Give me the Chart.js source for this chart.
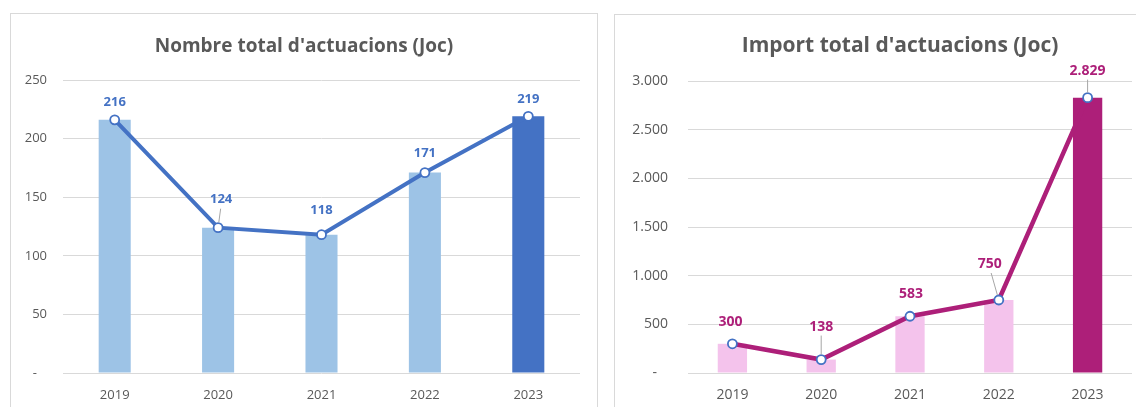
<!DOCTYPE html>
<html>
<head>
<meta charset="utf-8">
<script src="https://cdn.jsdelivr.net/npm/chart.js@4/dist/chart.umd.min.js"></script>
<style>
  html, body { margin: 0; padding: 0; background: #fff; overflow: hidden; }
  body { width: 1136px; height: 407px; position: relative; }
  .panel { position: absolute; border: 1px solid #D9D9D9; background: #fff; }
  #panelCount { left: 10px; top: 13px; width: 586px; height: 420px; }
  #panelImport { left: 614px; top: 14px; width: 570px; height: 420px; }
  canvas { display: block; }
</style>
</head>
<body>
<div class="panel" id="panelCount"><canvas id="countChart"></canvas></div>
<div class="panel" id="panelImport"><canvas id="importChart"></canvas></div>
<script>
// Dades
const years = ['2019', '2020', '2021', '2022', '2023'];
const actuacions = [216, 124, 118, 171, 219];
const imports = [300, 138, 583, 750, 2829];

const FONT = "'Open Sans', 'Noto Sans', sans-serif";

// 2.829 style thousands
function fmtThousands(n) {
  return String(n).replace(/\B(?=(\d{3})+(?!\d))/g, '.');
}

// Títol centrat a tot el llenç (no només a l'àrea del gràfic)
const centeredTitle = {
  id: 'centeredTitle',
  afterDraw(chart, args, opts) {
    if (!opts.text) return;
    const ctx = chart.ctx;
    ctx.save();
    ctx.font = 'bold ' + opts.size + 'px ' + FONT;
    ctx.fillStyle = '#595959';
    ctx.textAlign = 'center';
    ctx.textBaseline = 'middle';
    ctx.fillText(opts.text, chart.width / 2, opts.y);
    ctx.restore();
  }
};

// Etiquetes de valor sobre els punts de la línia, amb línia guia opcional
const valueLabels = {
  id: 'valueLabels',
  afterDatasetsDraw(chart, args, opts) {
    if (!opts.offsets) return;
    const meta = chart.getDatasetMeta(opts.dataset);
    const values = chart.data.datasets[opts.dataset].data;
    const ctx = chart.ctx;
    ctx.save();
    meta.data.forEach((pt, i) => {
      const [dx, dy, leader] = opts.offsets[i];
      const lx = pt.x + dx, ly = pt.y + dy;
      if (leader) {
        const sx = lx - dx * 0.15, sy = ly + 9;
        const ang = Math.atan2(sy - pt.y, sx - pt.x);
        ctx.strokeStyle = '#A6A6A6';
        ctx.lineWidth = 1;
        ctx.beginPath();
        ctx.moveTo(sx, sy);
        ctx.lineTo(pt.x + Math.cos(ang) * 5, pt.y + Math.sin(ang) * 5);
        ctx.stroke();
      }
      ctx.font = opts.font;
      ctx.fillStyle = opts.color;
      ctx.textAlign = 'center';
      ctx.textBaseline = 'middle';
      ctx.fillText(opts.format(values[i]), lx, ly);
    });
    ctx.restore();
  }
};
Chart.register(valueLabels, centeredTitle);

function makeChart(id, cfg) {
  const canvas = document.getElementById(id);
  canvas.width = cfg.width;
  canvas.height = cfg.height;
  canvas.style.width = cfg.width + 'px';
  canvas.style.height = cfg.height + 'px';

  const barColors = years.map((y, i) => i === years.length - 1 ? cfg.barDark : cfg.barLight);

  return new Chart(canvas, {
    type: 'bar',
    data: {
      labels: years,
      datasets: [
        {
          type: 'line',
          data: cfg.values,
          borderColor: cfg.lineColor,
          borderWidth: cfg.lineWidth,
          pointRadius: 4.5,
          pointBorderWidth: 1.8,
          pointBackgroundColor: '#FFFFFF',
          pointBorderColor: '#4472C4',
          tension: 0,
          order: 0,
        },
        {
          data: cfg.values,
          backgroundColor: barColors,
          barPercentage: cfg.barPct,
          categoryPercentage: 1,
          order: 1,
        },
      ],
    },
    options: {
      responsive: false,
      animation: false,
      layout: { padding: { left: 0, right: cfg.padRight, top: cfg.padTop, bottom: 0 } },
      plugins: {
        legend: { display: false },
        tooltip: { enabled: false },
        title: { display: false },
        centeredTitle: { text: cfg.title, size: cfg.titleSize, y: cfg.titleY },
        valueLabels: {
          dataset: 0,
          offsets: cfg.labelOffsets,
          color: cfg.labelColor,
          font: 'bold ' + cfg.labelSize + 'px ' + FONT,
          format: fmtThousands,
        },
      },
      scales: {
        x: {
          grid: { display: false, drawTicks: false },
          border: { display: false },
          ticks: { color: '#595959', font: { family: FONT, size: cfg.tickSize }, padding: 14 },
          afterFit: (s) => { s.height = cfg.xAxisHeight; },
        },
        y: {
          min: 0,
          max: cfg.max,
          grid: { color: '#D9D9D9', lineWidth: 1, drawTicks: false },
          border: { display: false },
          ticks: {
            stepSize: cfg.step,
            color: '#595959',
            font: { family: FONT, size: cfg.tickSize },
            padding: cfg.yPad,
            callback: (v) => v === 0 ? '-   ' : fmtThousands(v),
          },
          afterFit: (s) => { s.width = cfg.yAxisWidth; },
        },
      },
    },
  });
}

makeChart('countChart', {
  width: 586, height: 394,
  title: "Nombre total d'actuacions (Joc)", titleSize: 19, titleY: 33,
  values: actuacions, max: 250, step: 50,
  barLight: '#9DC3E6', barDark: '#4472C4', lineColor: '#4472C4', barPct: 0.31, lineWidth: 4,
  labelColor: '#4472C4', labelSize: 13, tickSize: 13,
  labelOffsets: [[0, -18], [3, -28, true], [0, -24], [0, -19], [0, -17]],
  padTop: 66, padRight: 17, yAxisWidth: 52, yPad: 16, xAxisHeight: 35,
});

makeChart('importChart', {
  width: 570, height: 393,
  title: "Import total d'actuacions (Joc)", titleSize: 21, titleY: 31,
  values: imports, max: 3000, step: 500,
  barLight: '#F4C3EC', barDark: '#AD1F79', lineColor: '#AD1F79', barPct: 0.33, lineWidth: 4.5,
  labelColor: '#AD1F79', labelSize: 14, tickSize: 14,
  labelOffsets: [[-2, -22], [0, -33, true], [1, -22], [-9, -36, true], [0, -27, true]],
  padTop: 66, padRight: 53, yAxisWidth: 73, yPad: 20, xAxisHeight: 35,
});
</script>
</body>
</html>
